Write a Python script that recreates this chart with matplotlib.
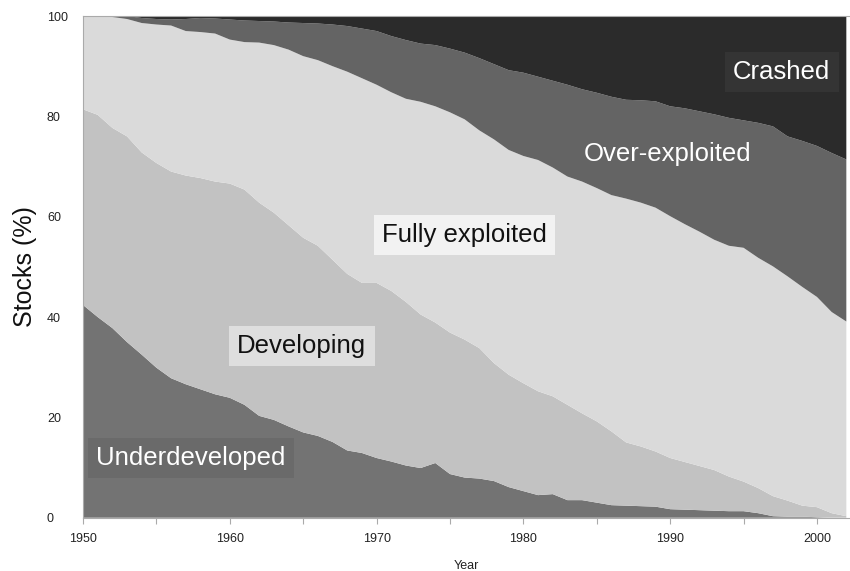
import numpy as np
import matplotlib
matplotlib.use("Agg")
import matplotlib.pyplot as plt
from matplotlib.ticker import MultipleLocator

plt.rcParams['font.family'] = ['Liberation Sans', 'DejaVu Sans']

# years covered by the chart
years = np.arange(1950, 2003)

# cumulative upper edge of each band (% of stocks)
top_underdeveloped = [42.4, 40.0, 37.8, 35.0, 32.5, 29.9, 27.8, 26.6, 25.6, 24.6,
                      23.9, 22.5, 20.3, 19.5, 18.2, 17.0, 16.3, 15.1, 13.4, 12.9,
                      11.9, 11.2, 10.4, 9.9, 10.9, 8.7, 8.0, 7.8, 7.3, 6.1,
                      5.3, 4.5, 4.7, 3.5, 3.5, 3.0, 2.5, 2.4, 2.3, 2.2,
                      1.7, 1.6, 1.5, 1.4, 1.3, 1.3, 0.9, 0.3, 0.2, 0.2,
                      0.1, 0.0, 0.0]
top_developing = [81.4, 80.3, 77.7, 76.0, 72.8, 70.7, 69.0, 68.2, 67.7, 67.0,
                  66.6, 65.4, 62.8, 60.8, 58.3, 55.8, 54.2, 51.4, 48.6, 46.8,
                  46.8, 45.2, 43.0, 40.5, 38.9, 36.9, 35.5, 33.8, 30.8, 28.5,
                  26.8, 25.2, 24.2, 22.5, 20.8, 19.2, 17.2, 15.0, 14.2, 13.2,
                  11.9, 11.1, 10.3, 9.5, 8.2, 7.2, 5.9, 4.3, 3.4, 2.4,
                  2.1, 0.9, 0.3]
top_fully = [100.0, 100.0, 99.8, 99.4, 98.6, 98.3, 98.1, 97.0, 96.8, 96.5,
             95.3, 94.8, 94.7, 94.2, 93.3, 92.0, 91.2, 90.0, 88.9, 87.6,
             86.3, 84.8, 83.5, 82.9, 82.0, 80.8, 79.4, 77.2, 75.4, 73.3,
             72.1, 71.3, 69.8, 68.0, 67.0, 65.7, 64.3, 63.6, 62.8, 61.8,
             60.1, 58.5, 57.0, 55.4, 54.2, 53.8, 51.8, 50.1, 48.1, 46.0,
             44.0, 41.0, 39.1]
top_over = [100.0, 100.0, 100.0, 100.0, 99.6, 99.4, 99.3, 99.4, 99.6, 99.5,
            99.3, 99.1, 99.0, 98.9, 98.7, 98.6, 98.5, 98.3, 98.0, 97.5,
            97.0, 96.0, 95.2, 94.5, 94.2, 93.5, 92.7, 91.6, 90.4, 89.2,
            88.7, 87.9, 87.1, 86.3, 85.4, 84.7, 83.9, 83.3, 83.2, 83.0,
            82.0, 81.6, 81.0, 80.4, 79.7, 79.2, 78.7, 78.0, 76.0, 75.1,
            74.1, 72.7, 71.4]
top_crashed = [100.0] * len(years)

categories = ["Underdeveloped", "Developing", "Fully exploited",
              "Over-exploited", "Crashed"]
colors = ["#737373", "#c2c2c2", "#dadada", "#646464", "#2b2b2b"]

# turn the cumulative edges into the share of each category
tops = np.array([top_underdeveloped, top_developing, top_fully,
                 top_over, top_crashed])
shares = np.diff(np.vstack([np.zeros(len(years)), tops]), axis=0)

fig = plt.figure(figsize=(8.5, 5.71), dpi=100)
ax = fig.add_axes([83 / 850, 1 - 517.7 / 571, 767 / 850, 501.7 / 571])

ax.stackplot(years, shares, colors=colors, linewidth=0)

ax.set_xlim(1950, 2002.25)
ax.set_ylim(0, 100)

# x axis: labels every 10 years, ticks every 5
ax.xaxis.set_major_locator(MultipleLocator(10))
ax.xaxis.set_minor_locator(MultipleLocator(5))
ax.tick_params(axis="x", which="both", direction="out", length=4,
               color="#aaaaaa", width=0.8)
ax.tick_params(axis="x", which="major", labelsize=9, labelcolor="#222222", pad=7)
ax.set_yticks(range(0, 101, 20))
ax.tick_params(axis="y", length=0, labelsize=9, labelcolor="#222222", pad=26)
for lab in ax.get_yticklabels():
    lab.set_horizontalalignment("left")

for side in ["left", "bottom", "top"]:
    ax.spines[side].set_color("#aaaaaa")
    ax.spines[side].set_linewidth(0.8)
ax.spines["right"].set_visible(False)

ax.set_xlabel("Year", fontsize=9, color="#222222", labelpad=11)
ax.set_ylabel("Stocks (%)", fontsize=18, color="#111111")
ax.yaxis.set_label_coords(-0.06, 0.5)

# band labels
label_pos = [(1957.35, 11.9), (1964.9, 34.2), (1976.0, 56.4),
             (1989.85, 72.5), (1997.6, 88.8)]
label_face = ["#6a6a6a", "#dedede", "#f2f2f2", "#646464", "#343434"]
label_text = ["white", "#111111", "#111111", "white", "white"]
for name, (x, y), fc, tc in zip(categories, label_pos, label_face, label_text):
    ax.text(x, y, name, ha="center", va="center", fontsize=18.5, color=tc,
            bbox=dict(boxstyle="square,pad=0.32", fc=fc, ec="none"))

fig.savefig("out.png", dpi=100)
